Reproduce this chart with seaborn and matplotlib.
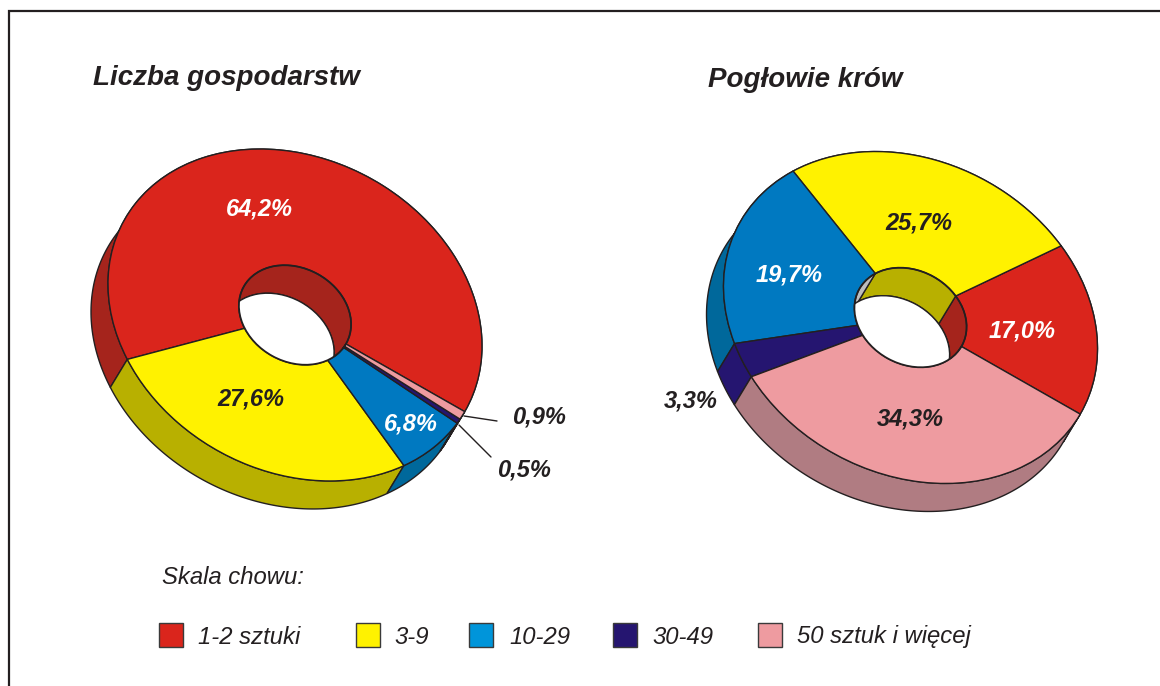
import numpy as np
import matplotlib
matplotlib.use('Agg')
import matplotlib.pyplot as plt
import seaborn as sns
from matplotlib.patches import Ellipse, Polygon, Rectangle
from matplotlib.transforms import Affine2D

# Data
farm_values = [64.2, 27.6, 6.8, 0.5, 0.9]
cow_values = [17.0, 25.7, 19.7, 3.3, 34.3]
legend_labels = ['1-2 sztuki', '3-9', '10-29', '30-49', '50 sztuk i więcej']
titles = ['Liczba gospodarstw', 'Pogłowie krów']
legend_title = 'Skala chowu:'

# Colours, same order as the legend
top_colors = sns.color_palette(['#DA251C', '#FFF200', '#0079C1', '#251570', '#EE9BA0'])
side_colors = sns.color_palette(['#A5241C', '#B8B000', '#00689B', '#251570', '#B07C82'])
inner_colors = sns.color_palette(['#A5241C', '#B8B000', '#BDBDBD', '#251570', '#B07C82'])
legend_colors = sns.color_palette(['#DA251C', '#FFF200', '#0095DA', '#251570', '#EE9BA0'])

# Layout in picture pixels
A, B, TILT = 195.3, 156.1, 28.7
HOLE = 0.3
START = 1.2
SHIFT = np.array([-17, 28])
EDGE = '#231F20'
LW = 1.0

sns.set_theme(style='white')
plt.rcParams['font.family'] = ['Liberation Sans', 'DejaVu Sans']

fig = plt.figure(figsize=(11.6, 6.86), dpi=100)
ax = fig.add_axes([0, 0, 1, 1])


def ring_points(center, radius, t0, t1, shift=(0, 0)):
    # points on the tilted ellipse, angles in degrees of the flat pie
    t = np.radians(np.linspace(t0, t1, 200))
    x = A * radius * np.cos(t)
    y = B * radius * np.sin(t)
    c, s = np.cos(np.radians(TILT)), np.sin(np.radians(TILT))
    return np.column_stack([center[0] + shift[0] + x * c - y * s,
                            center[1] + shift[1] + x * s + y * c])


def strip(center, radius, t0, t1, color, zorder):
    upper = ring_points(center, radius, t0, t1)
    lower = ring_points(center, radius, t0, t1, SHIFT)
    patch = Polygon(np.vstack([upper, lower[::-1]]), closed=True, facecolor=color,
                    edgecolor=EDGE, linewidth=LW, zorder=zorder)
    ax.add_patch(patch)
    return patch


def donut(center, values):
    angles = START - np.cumsum([0] + values) * 3.6

    # outer side walls first, the top face hides the back ones
    for i in range(len(values)):
        strip(center, 1, angles[i], angles[i + 1], side_colors[i], 1)

    wedges, _ = ax.pie(values, startangle=START, counterclock=False, colors=top_colors,
                       wedgeprops=dict(width=1 - HOLE, edgecolor=EDGE, linewidth=LW, zorder=2))
    flat = Affine2D().scale(A, B).rotate_deg(TILT).translate(*center) + ax.transData
    for w in wedges:
        w.set_transform(flat)

    # inside of the hole, clipped to the rim
    rim = Ellipse(center, 2 * A * HOLE, 2 * B * HOLE, angle=TILT, facecolor='none',
                  edgecolor=EDGE, linewidth=LW + 0.3, zorder=5)
    ax.add_patch(rim)
    for i in range(len(values)):
        wall = strip(center, HOLE, angles[i], angles[i + 1], inner_colors[i], 3)
        wall.set_clip_path(rim)
    floor = Ellipse(center + SHIFT, 2 * A * HOLE, 2 * B * HOLE, angle=TILT, facecolor='white',
                    edgecolor=EDGE, linewidth=LW, zorder=4)
    ax.add_patch(floor)
    floor.set_clip_path(rim)


def value_text(value):
    return f'{value:.1f}%'.replace('.', ',')


donut(np.array([295, 315]), farm_values)
donut(np.array([910.5, 317.5]), cow_values)

ax.set_aspect('auto')
ax.set_xlim(0, 1160)
ax.set_ylim(686, 0)
ax.axis('off')

# frame of the original figure
ax.plot([9, 9, 1160], [686, 11, 11], color=EDGE, linewidth=1.6, zorder=1, solid_joinstyle='miter')

# titles
ax.text(93, 78, titles[0], fontsize=20, fontweight='bold', style='italic', color=EDGE, va='center', zorder=6)
ax.text(708, 80, titles[1], fontsize=20, fontweight='bold', style='italic', color=EDGE, va='center', zorder=6)

# value labels
farm_pos = [(259, 209), (251, 399), (411, 424), (524, 470), (539, 417)]
cow_pos = [(1022, 331), (919, 223), (789, 275), (691, 401), (910, 419)]
text_colors = ['white', EDGE, 'white', EDGE, EDGE]
for values, pos in [(farm_values, farm_pos), (cow_values, cow_pos)]:
    for v, (x, y), col in zip(values, pos, text_colors):
        ax.text(x, y, value_text(v), fontsize=17, fontweight='bold', style='italic',
                color=col, ha='center', va='center', zorder=6)

# leader lines for the two thin slices
ax.plot([464, 497], [416, 421], color=EDGE, linewidth=LW, zorder=6)
ax.plot([459, 491], [425, 457], color=EDGE, linewidth=LW, zorder=6)

# legend
ax.text(162, 577, legend_title, fontsize=17.2, style='italic', color=EDGE, va='center', zorder=6)
box_x = [159, 356, 469, 613, 758]
text_x = [198, 394, 509, 652, 797]
for i, label in enumerate(legend_labels):
    ax.add_patch(Rectangle((box_x[i], 623), 24, 24, facecolor=legend_colors[i],
                           edgecolor='#3A3A3A', linewidth=LW, zorder=6))
    ax.text(text_x[i], 637, label, fontsize=17.2, style='italic', color=EDGE, va='center', zorder=6)

fig.savefig('out.png', dpi=100, facecolor='white')
plt.close(fig)
